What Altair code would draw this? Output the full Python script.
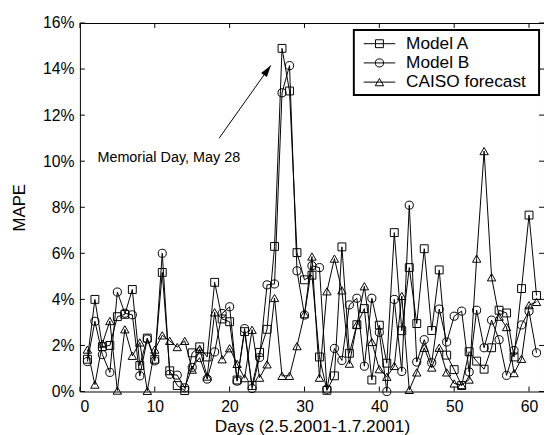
import altair as alt
import pandas as pd

# ---------------- data ----------------
days = list(range(1, 62))
series_names = ["Model A", "Model B", "CAISO forecast"]

model_a = [1.4, 4.0, 1.95, 2.0, 3.25, 3.35, 4.43, 1.13, 2.32, 1.4,
           5.17, 0.9, 0.26, 0.04, 1.68, 1.94, 1.5, 4.74, 3.15, 3.03,
           0.5, 2.6, 0.26, 1.7, 2.7, 6.3, 14.9, 13.05, 6.03, 4.85,
           5.05, 1.5, 0.05, 0.68, 6.28, 1.66, 2.9, 3.6, 0.5, 2.88,
           1.23, 6.9, 2.64, 5.38, 2.95, 6.2, 2.65, 5.28, 1.58, 0.95,
           0.26, 1.73, 1.32, 0.97, 1.9, 3.53, 3.41, 1.5, 4.47, 7.66,
           4.17]
model_b = [1.3, 3.05, 1.6, 0.83, 4.32, 3.4, 3.33, 0.68, 2.28, 1.33,
           6.0, 0.75, 0.71, 0.16, 1.05, 1.47, 0.54, 1.72, 3.39, 3.68,
           0.45, 2.73, 0.13, 1.48, 4.63, 4.67, 12.97, 14.15, 5.24, 3.32,
           5.46, 5.38, 0.1, 1.87, 1.35, 3.76, 4.05, 1.1, 4.05, 2.57,
           0.0, 4.0, 0.87, 8.09, 1.28, 2.25, 1.25, 3.58, 2.15, 3.27,
           3.49, 0.85, 3.53, 1.9, 3.1, 2.25, 0.7, 1.78, 2.89, 3.49,
           1.68]
caiso = [1.82, 0.3, 2.08, 3.06, 0.04, 2.7, 1.55, 2.13, 0.03, 1.82,
         2.44, 2.2, 1.93, 2.2, 0.95, 1.85, 0.65, 3.44, 1.4, 1.88,
         1.2, 0.58, 2.68, 0.6, 1.18, 4.06, 0.68, 0.68, 1.97, 3.36,
         5.86, 0.6, 4.35, 5.77, 4.39, 1.21, 2.9, 4.57, 2.15, 0.97,
         0.64, 1.11, 4.15, 0.07, 0.83, 1.9, 1.04, 1.9, 0.83, 0.35,
         0.28, 0.52, 5.77, 10.44, 4.96, 3.25, 2.8, 0.8, 1.42, 3.75,
         3.89]

x_ticks = [0, 10, 20, 30, 40, 50, 60]
y_ticks = [0, 2, 4, 6, 8, 10, 12, 14, 16]

annotation_text = ["Memorial Day, May 28"]
annotation_x = [11.87]
annotation_y = [10.15]
arrow_x = [18.6]
arrow_y = [11.0]
arrow_x2 = [25.5]
arrow_y2 = [14.16]

# ---------------- layout / style ----------------
W, H = 471, 374
FONT = "Liberation Sans"
TICK = 5

values = {"Model A": model_a, "Model B": model_b, "CAISO forecast": caiso}
rows = []
for name in series_names:
    for d, v in zip(days, values[name]):
        rows.append({"day": d, "mape": v, "series": name})
df = pd.DataFrame(rows)

x_scale = alt.Scale(domain=[0, 62], nice=False, zero=False)
y_scale = alt.Scale(domain=[0, 16], nice=False)
shape_scale = alt.Scale(domain=series_names, range=["square", "circle", "triangle-up"])
size_scale = alt.Scale(domain=series_names, range=[64, 72, 80])

x_enc = alt.X("day:Q", scale=x_scale,
              axis=alt.Axis(values=x_ticks, title="Days (2.5.2001-1.7.2001)",
                            ticks=False, grid=False, domain=False,
                            labelFontSize=16, titleFontSize=17.5,
                            labelPadding=7, titlePadding=4))
y_enc = alt.Y("mape:Q", scale=y_scale,
              axis=alt.Axis(values=y_ticks, title="MAPE", labelExpr="datum.value + '%'",
                            ticks=False, grid=False, domain=False,
                            labelFontSize=16, titleFontSize=17,
                            labelPadding=6, titlePadding=14))

lines = alt.Chart(df).mark_line(color="black", strokeWidth=1).encode(
    x=x_enc, y=y_enc, detail="series:N", order="day:Q")

points = alt.Chart(df).mark_point(filled=False, color="black", strokeWidth=1, opacity=1).encode(
    x="day:Q", y="mape:Q",
    shape=alt.Shape("series:N", scale=shape_scale, legend=None),
    size=alt.Size("series:N", scale=size_scale, legend=None))

ann_df = pd.DataFrame({"x": annotation_x, "y": annotation_y, "t": annotation_text,
                       "ax": arrow_x, "ay": arrow_y, "ax2": arrow_x2, "ay2": arrow_y2})
ann_text = alt.Chart(ann_df).mark_text(font=FONT, fontSize=14.6, align="center",
                                       baseline="middle", color="black").encode(
    x="x:Q", y="y:Q", text="t:N")
arrow = alt.Chart(ann_df).mark_rule(color="black", strokeWidth=1).encode(
    x="ax:Q", y="ay:Q", x2="ax2:Q", y2="ay2:Q")
arrow_head = alt.Chart(ann_df).mark_point(shape="M0,0L-0.3,1L0.3,1Z", filled=True,
                                          color="black", size=576, angle=35, opacity=1).encode(
    x="ax2:Q", y="ay2:Q")

xt = pd.DataFrame({"t": x_ticks})
yt = pd.DataFrame({"t": y_ticks})
tick_bottom = alt.Chart(xt).mark_rule(color="black").encode(
    x=alt.X("t:Q"), y=alt.value(H), y2=alt.value(H - TICK))
tick_top = alt.Chart(xt).mark_rule(color="black").encode(
    x=alt.X("t:Q"), y=alt.value(0), y2=alt.value(TICK))
tick_left = alt.Chart(yt).mark_rule(color="black").encode(
    y=alt.Y("t:Q"), x=alt.value(0), x2=alt.value(TICK))
tick_right = alt.Chart(yt).mark_rule(color="black").encode(
    y=alt.Y("t:Q"), x=alt.value(W), x2=alt.value(W - TICK))

# manual legend (line + marker samples)
LX0, LX1, LY0, LY1 = 278, 466, 7, 73
leg_df = pd.DataFrame({"series": series_names,
                       "ly": [21 + 19.5 * i for i in range(len(series_names))]})
leg_box = alt.Chart(pd.DataFrame({"a": [0]})).mark_rect(
    fill="white", stroke="black", strokeWidth=2).encode(
    x=alt.value(LX0), x2=alt.value(LX1), y=alt.value(LY0), y2=alt.value(LY1))
leg_line = alt.Chart(leg_df).mark_rule(color="black", strokeWidth=1).encode(
    x=alt.value(288), x2=alt.value(320), y=alt.Y("ly:Q", scale=None, axis=None))
leg_pts = alt.Chart(leg_df).mark_point(filled=False, color="black", strokeWidth=1, opacity=1).encode(
    x=alt.value(304), y=alt.Y("ly:Q", scale=None, axis=None),
    shape=alt.Shape("series:N", scale=shape_scale, legend=None),
    size=alt.Size("series:N", scale=size_scale, legend=None))
leg_txt = alt.Chart(leg_df).mark_text(font=FONT, fontSize=17.5, align="left",
                                      baseline="middle", color="black").encode(
    x=alt.value(331), y=alt.Y("ly:Q", scale=None, axis=None), text="series:N")

chart = alt.layer(
    lines, points, ann_text, arrow, arrow_head,
    tick_bottom, tick_top, tick_left, tick_right,
    leg_box, leg_line, leg_pts, leg_txt
).properties(
    width=W, height=H,
    padding={"left": 73, "top": 12, "right": 0, "bottom": 48},
    autosize=alt.AutoSizeParams(type="none"),
    background="white"
).configure_view(
    stroke="black", strokeWidth=1
).configure_axis(
    labelFont=FONT, titleFont=FONT, labelColor="black", titleColor="black",
    titleFontWeight="normal"
)

chart.save("out.html", embed_options={"renderer": "svg", "actions": False})
